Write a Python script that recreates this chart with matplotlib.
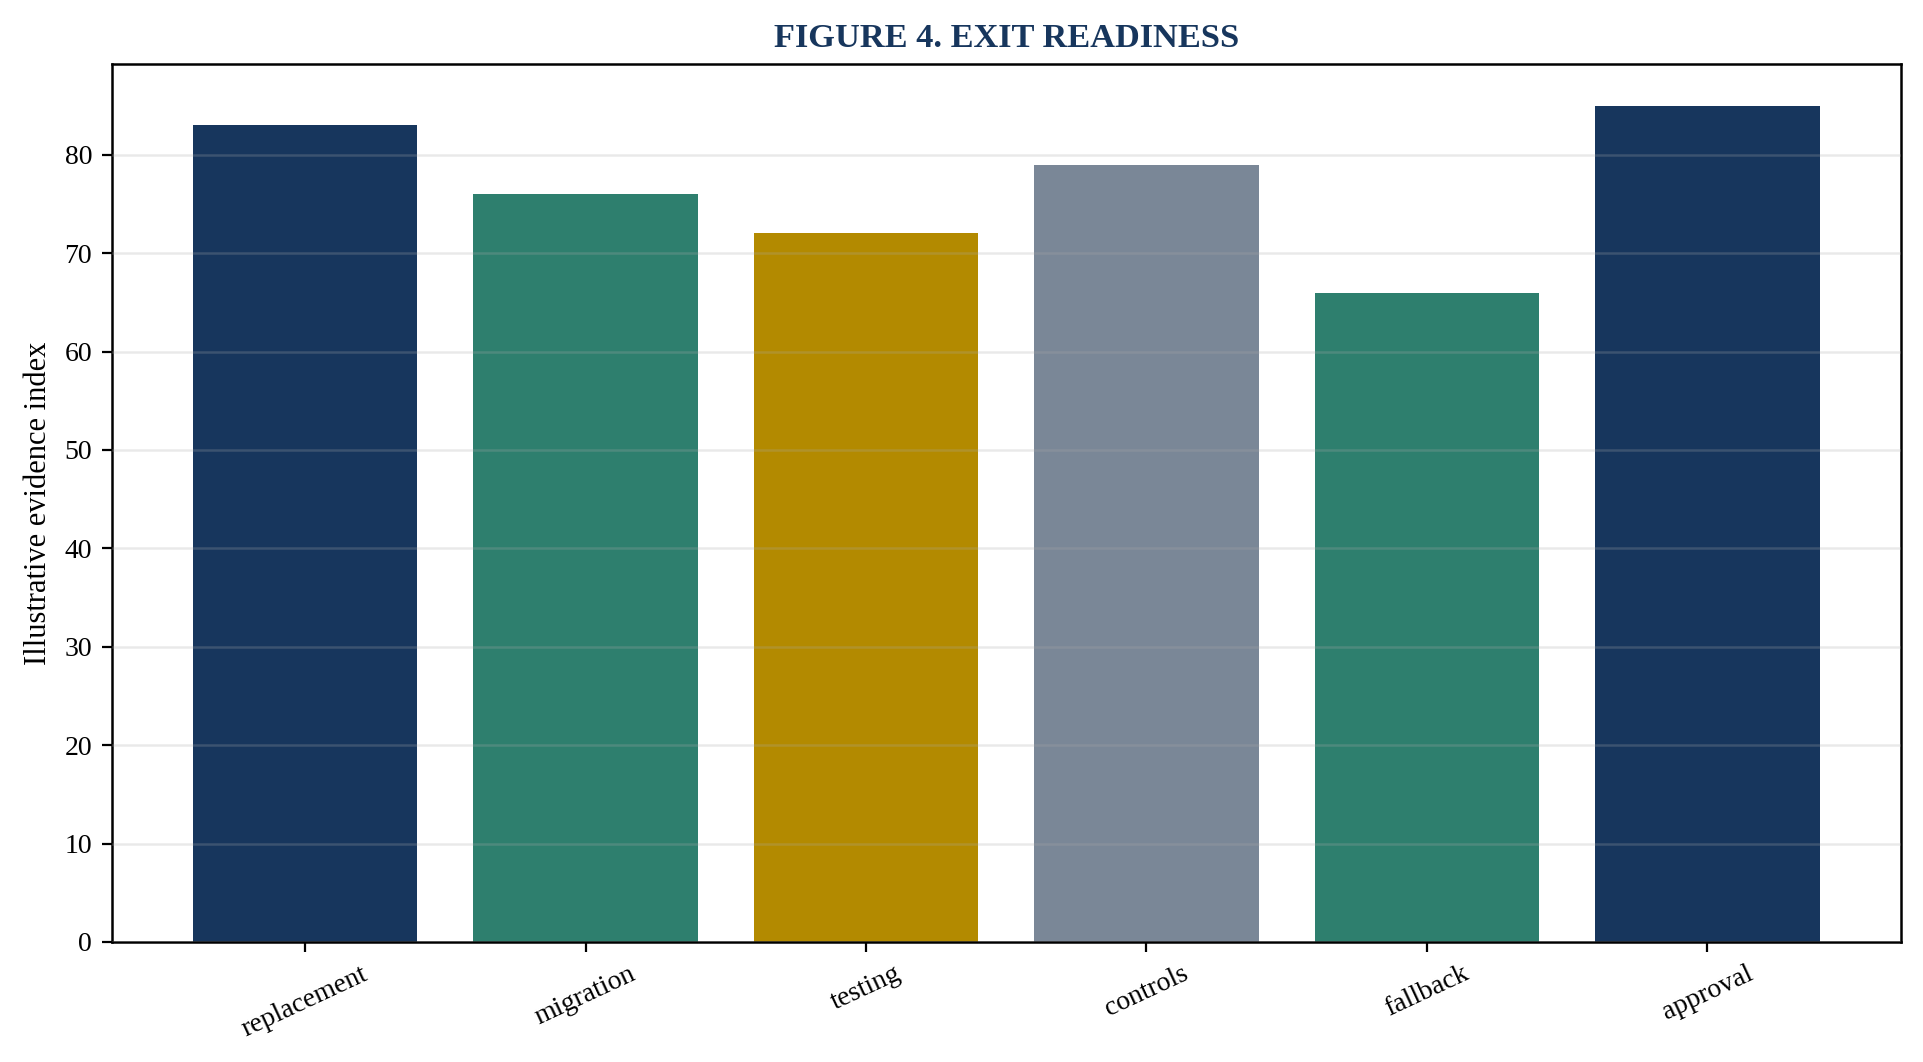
import matplotlib
matplotlib.use("Agg")
import matplotlib.pyplot as plt

categories = ["replacement", "migration", "testing", "controls", "fallback", "approval"]
values = [83, 76, 72, 79, 66, 85]
colors = ["#17365d", "#2e7f6e", "#b38a00", "#7a8797", "#2e7f6e", "#17365d"]

plt.rcParams['font.family'] = ['Liberation Serif', 'DejaVu Serif']

fig, ax = plt.subplots(figsize=(9.62, 5.31), dpi=200)
fig.subplots_adjust(left=0.058, right=0.988, top=0.94, bottom=0.113)

ax.bar(categories, values, color=colors, width=0.8, zorder=2)
ax.set_axisbelow(False)
ax.yaxis.grid(True, color="#aaaaaa", alpha=0.25, linewidth=0.9, zorder=3)
ax.set_ylabel("Illustrative evidence index", fontsize=11)
ax.set_title("FIGURE 4. EXIT READINESS", fontsize=12.4, fontweight="bold", color="#17365d", pad=6)
ax.tick_params(axis='both', labelsize=10)
plt.setp(ax.get_xticklabels(), rotation=25, ha='center')
for s in ax.spines.values():
    s.set_linewidth(0.9)

fig.savefig("out.png", dpi=200)
